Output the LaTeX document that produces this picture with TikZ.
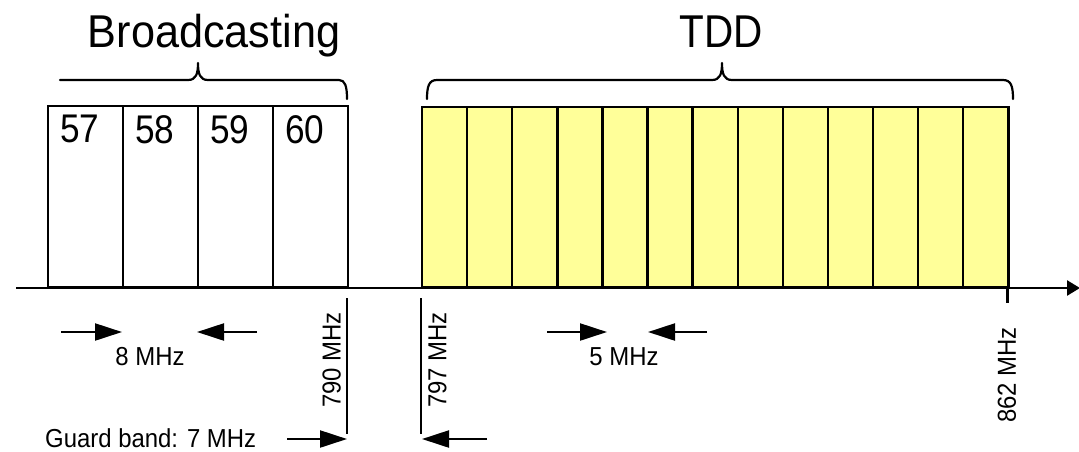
\documentclass[tikz,border=0pt]{standalone}
\usepackage{fontspec}
\usetikzlibrary{arrows.meta}
\newfontfamily\labfont[FakeStretch=0.88]{Liberation Sans}
\newfontfamily\widefont[FakeStretch=0.94]{Liberation Sans}
\newfontfamily\smallfont[FakeStretch=0.92]{Liberation Sans}
\definecolor{tddfill}{HTML}{FFFF99}
\tikzset{
  title/.style={font=\labfont\fontsize{46}{50}\selectfont, inner sep=0pt, anchor=base},
  chnum/.style={font=\labfont\fontsize{40}{44}\selectfont, inner sep=0pt, anchor=north west},
  small/.style={font=\smallfont\fontsize{26}{29}\selectfont, inner sep=0pt},
  freq/.style={small, rotate=90},
  bcbox/.style={draw, line width=2pt, fill=white, minimum width=75pt, minimum height=181pt, inner sep=0pt, anchor=south west},
  tddbox/.style={draw, line width=2.4pt, fill=tddfill, minimum width=45.1pt, minimum height=180pt, inner sep=0pt, anchor=south west},
  brace/.style={line width=2.2pt, line cap=round, line join=round},
  marker/.style={line width=2.6pt},
  dimarrow/.style={line width=2.2pt, -{Triangle[length=27pt,width=17pt]}},
  axis/.style={line width=2.6pt, -{Triangle[length=13pt,width=15pt]}},
}
\begin{document}
\begin{tikzpicture}[x=1pt, y=-1pt]
\useasboundingbox (0,0) rectangle (1079,451);

% titles
\node[title, font=\widefont\fontsize{46}{50}\selectfont] (tbc) at (214,47) {Broadcasting};
\node[title] (ttdd) at (721,47) {TDD};

% braces
\draw[brace] (60,80) -- (188,80) .. controls (196,80) and (198,74) .. (198,63)
  .. controls (198,74) and (200,80) .. (208,80) -- (339,80)
  .. controls (345,80) and (347,86) .. (347,99);
\draw[brace] (427,99) .. controls (427,86) and (429,80) .. (437,80) -- (712,80)
  .. controls (720,80) and (722,74) .. (722,63)
  .. controls (722,74) and (724,80) .. (732,80) -- (1003,80)
  .. controls (1011,80) and (1013,86) .. (1013,99);

% axis
\coordinate (ax0) at (16,288);
\coordinate (ax1) at (1080,288);
\draw[axis] (ax0) -- (ax1);

% broadcasting channels
\foreach \i/\n in {0/57,1/58,2/59,3/60}{
  \node[bcbox] (ch\n) at ({47+75*\i},288) {};
  \node[chnum] (lb\n) at ([xshift=13pt,yshift=-10pt]ch\n.north west) {\n};
}

% TDD channels
\foreach \i in {0,...,12}{
  \node[tddbox] (t\i) at ({420.8+45.1*\i},288) {};
}

% frequency markers
\coordinate (m790a) at (347,298);
\coordinate (m790b) at (347,434);
\coordinate (m797a) at (421,298);
\coordinate (m797b) at (421,434);
\draw[marker] (m790a) -- (m790b);
\draw[marker] (m797a) -- (m797b);
\coordinate (m862a) at (1007,286);
\coordinate (m862b) at (1007,303);
\draw[line width=3pt] (m862a) -- (m862b);

\node[freq, anchor=south] (f790) at (341,360) {790 MHz};
\node[freq, anchor=north] (f797) at (428,360) {797 MHz};
\node[freq] (f862) at (1007,375) {862 MHz};

% channel width arrows
\coordinate (a8l) at (61,332);  \coordinate (a8lt) at (122,332);
\coordinate (a8r) at (257,332); \coordinate (a8rt) at (197,332);
\draw[dimarrow] (a8l) -- (a8lt);
\draw[dimarrow] (a8r) -- (a8rt);
\node[small, anchor=base] (w8) at (150,365) {8 MHz};

\coordinate (a5l) at (547,332); \coordinate (a5lt) at (607,332);
\coordinate (a5r) at (707,332); \coordinate (a5rt) at (648,332);
\draw[dimarrow] (a5l) -- (a5lt);
\draw[dimarrow] (a5r) -- (a5rt);
\node[small, anchor=base] (w5) at (624,365) {5 MHz};

% guard band
\node[small, anchor=base west] (gb) at (45,447) {Guard band: 7 MHz};
\coordinate (g1) at (287,439); \coordinate (g1t) at (347,439);
\coordinate (g2) at (487,439); \coordinate (g2t) at (422,439);
\draw[dimarrow] (g1) -- (g1t);
\draw[dimarrow] (g2) -- (g2t);
\end{tikzpicture}
\end{document}
